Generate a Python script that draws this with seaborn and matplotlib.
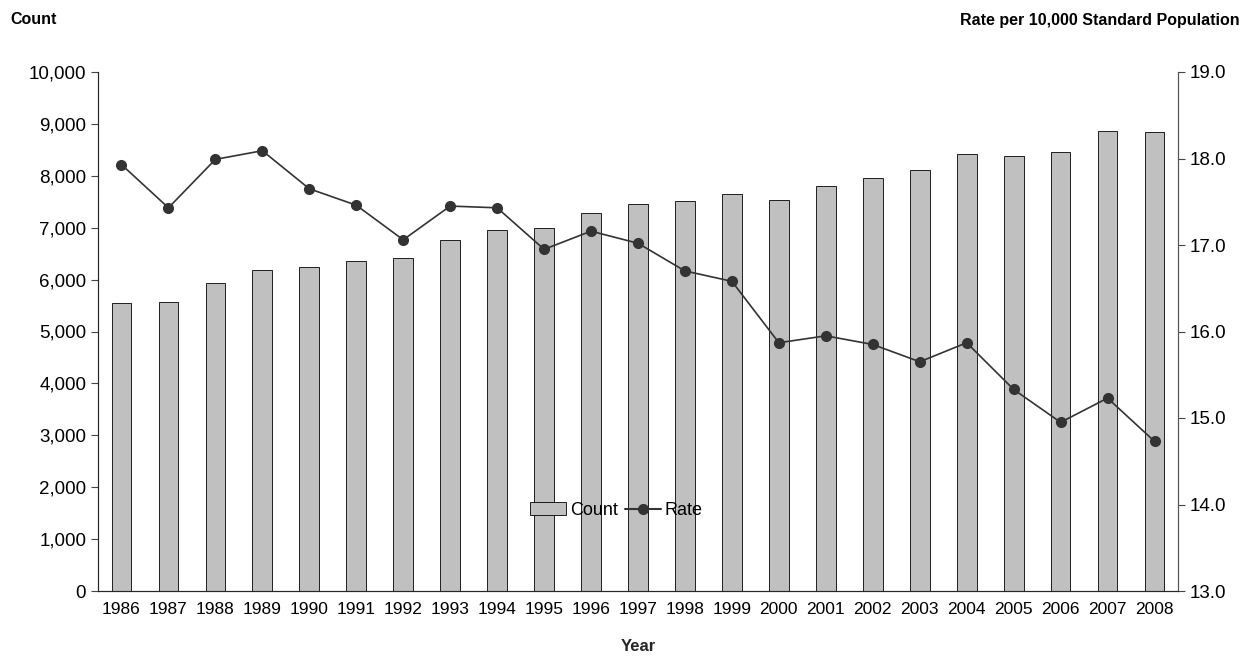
import matplotlib
matplotlib.use("Agg")
import matplotlib.pyplot as plt
import seaborn as sns
import pandas as pd
import numpy as np
from matplotlib.patches import Patch
from matplotlib.lines import Line2D

years = list(range(1986, 2009))
counts = [5550, 5570, 5930, 6180, 6240, 6360, 6410, 6760, 6950, 7000, 7290, 7460,
          7510, 7650, 7530, 7800, 7960, 8110, 8420, 8380, 8450, 8870, 8840]
rates = [17.93, 17.43, 17.99, 18.09, 17.65, 17.46, 17.06, 17.45, 17.43, 16.95, 17.16,
         17.02, 16.70, 16.58, 15.87, 15.95, 15.85, 15.65, 15.87, 15.33, 14.95, 15.23, 14.73]

sns.set_style("white")
plt.rcParams['font.family'] = ['Liberation Sans', 'DejaVu Sans']
plt.rcParams['text.color'] = 'black'
plt.rcParams['xtick.color'] = 'black'
plt.rcParams['ytick.color'] = 'black'
df = pd.DataFrame({"Year": [str(y) for y in years], "Count": counts, "Rate": rates})

fig = plt.figure(figsize=(12.52, 6.63), dpi=100)
ax = fig.add_axes([98/1252, 1-591/663, 1080/1252, 519/663])
sns.barplot(data=df, x="Year", y="Count", color="#c0c0c0", edgecolor="black",
            linewidth=0.6, width=0.42, saturation=1, ax=ax)
ax.set_ylim(0, 10000)
ax.set_xlim(-0.5, len(years) - 0.5)
ax.set_yticks(range(0, 10001, 1000))
ax.set_yticklabels([f"{v:,}" for v in range(0, 10001, 1000)], fontsize=13.5)
ax.set_xticks(np.arange(len(years)))
ax.set_xticklabels(df["Year"], fontsize=12.5)
ax.set_xticks(np.arange(-0.5, len(years)), minor=True)
ax.tick_params(axis='x', which='major', length=0, pad=8)
ax.tick_params(axis='x', which='minor', length=5, direction='out', color='#444')
ax.tick_params(axis='y', length=5, direction='out', color='#444', left=True)
ax.set_ylabel("")
ax.set_xlabel("Year", fontsize=12, fontweight='bold', labelpad=16)
for s in ['left', 'bottom', 'right']:
    ax.spines[s].set_color('#555')
ax.spines['top'].set_visible(False)

ax2 = ax.twinx()
ax2.plot(np.arange(len(years)), df["Rate"], color="#333333", marker='o',
         markersize=7, linewidth=1.2)
ax2.set_ylim(13, 19)
ax2.set_yticks(np.arange(13, 19.01, 1))
ax2.set_yticklabels([f"{v:.1f}" for v in np.arange(13, 19.01, 1)], fontsize=13.5)
ax2.tick_params(axis='y', length=5, direction='out', color='#444', right=True)
ax2.spines['top'].set_visible(False)
ax2.spines['right'].set_color('#555')

fig.text(10/1252, 1-20/663, "Count", fontsize=11.5, fontweight='bold', va='center')
fig.text(1240/1252, 1-20/663, "Rate per 10,000 Standard Population", fontsize=11.5,
         fontweight='bold', va='center', ha='right')

handles = [Patch(facecolor="#c0c0c0", edgecolor="black", linewidth=0.6),
           Line2D([0], [0], color="#333333", marker='o', markersize=7)]
ax2.legend(handles, ["Count", "Rate"], loc='center', bbox_to_anchor=(0.48, 0.155),
           ncol=2, frameon=False, fontsize=13, handlelength=2, columnspacing=0.4,
           handletextpad=0.2)
fig.savefig("out.png", dpi=100)
